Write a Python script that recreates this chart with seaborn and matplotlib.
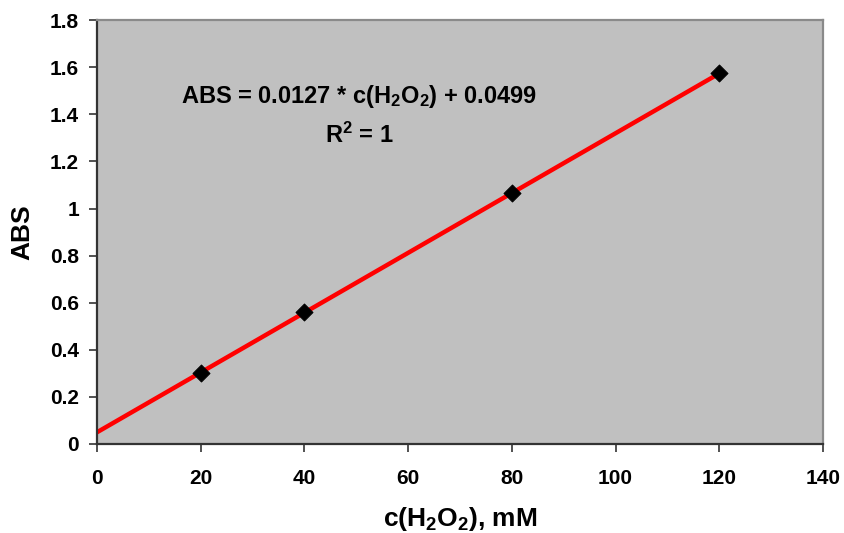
import numpy as np
import pandas as pd
import matplotlib
matplotlib.use("Agg")
import matplotlib.pyplot as plt
import seaborn as sns

# calibration points
conc = [20, 40, 80, 120]          # c(H2O2), mM
absorb = [0.30, 0.56, 1.065, 1.578]

# fit shown on the chart
slope = 0.0127
intercept = 0.0499

x_ticks = [0, 20, 40, 60, 80, 100, 120, 140]
y_ticks = [0, 0.2, 0.4, 0.6, 0.8, 1, 1.2, 1.4, 1.6, 1.8]

sns.set_style("ticks", {"axes.facecolor": "#C0C0C0"})
plt.rcParams["font.family"] = ["Liberation Sans", "DejaVu Sans"]
plt.rcParams["font.weight"] = "bold"
plt.rcParams["text.color"] = "black"
plt.rcParams["axes.labelcolor"] = "black"
plt.rcParams["xtick.color"] = "black"
plt.rcParams["ytick.color"] = "black"
plt.rcParams["mathtext.fontset"] = "custom"
plt.rcParams["mathtext.rm"] = "Liberation Sans:bold"
plt.rcParams["mathtext.default"] = "rm"

df = pd.DataFrame({"c": conc, "abs": absorb})
line_x = np.array([0, max(conc)])
fit = pd.DataFrame({"c": line_x, "abs": slope * line_x + intercept})

fig = plt.figure(figsize=(8.44, 5.33), dpi=100)
ax = fig.add_axes([0.115, 0.167, 0.860, 0.795])

sns.lineplot(data=fit, x="c", y="abs", color="#FF0000", linewidth=3.2, ax=ax, zorder=2)
sns.scatterplot(data=df, x="c", y="abs", marker="D", s=75, color="black",
                edgecolor="black", ax=ax, zorder=3)

ax.set_xlim(0, 140)
ax.set_ylim(0, 1.8)
ax.set_xticks(x_ticks)
ax.set_yticks(y_ticks)
ax.set_xticklabels([str(t) for t in x_ticks])
ax.set_yticklabels([("%g" % t) for t in y_ticks])
ax.tick_params(labelsize=15, length=6, width=1.2, color="#333333", pad=7)
ax.tick_params(axis="x", pad=12)

for s in ["left", "bottom"]:
    ax.spines[s].set_color("#333333")
    ax.spines[s].set_linewidth(1.6)
for s in ["top", "right"]:
    ax.spines[s].set_visible(True)
    ax.spines[s].set_color("#8a8a8a")
    ax.spines[s].set_linewidth(1.6)

ax.set_xlabel("c(H$_2$O$_2$), mM", fontsize=19, fontweight="bold", labelpad=12)
ax.set_ylabel("ABS", fontsize=19, fontweight="bold", labelpad=11)

ax.text(50.5, 1.475, "ABS = 0.0127 * c(H$_2$O$_2$) + 0.0499", fontsize=17,
        fontweight="bold", ha="center", va="center")
ax.text(50.5, 1.31, "R$^2$ = 1", fontsize=17, fontweight="bold", ha="center", va="center")

fig.savefig("out.png", dpi=100)
